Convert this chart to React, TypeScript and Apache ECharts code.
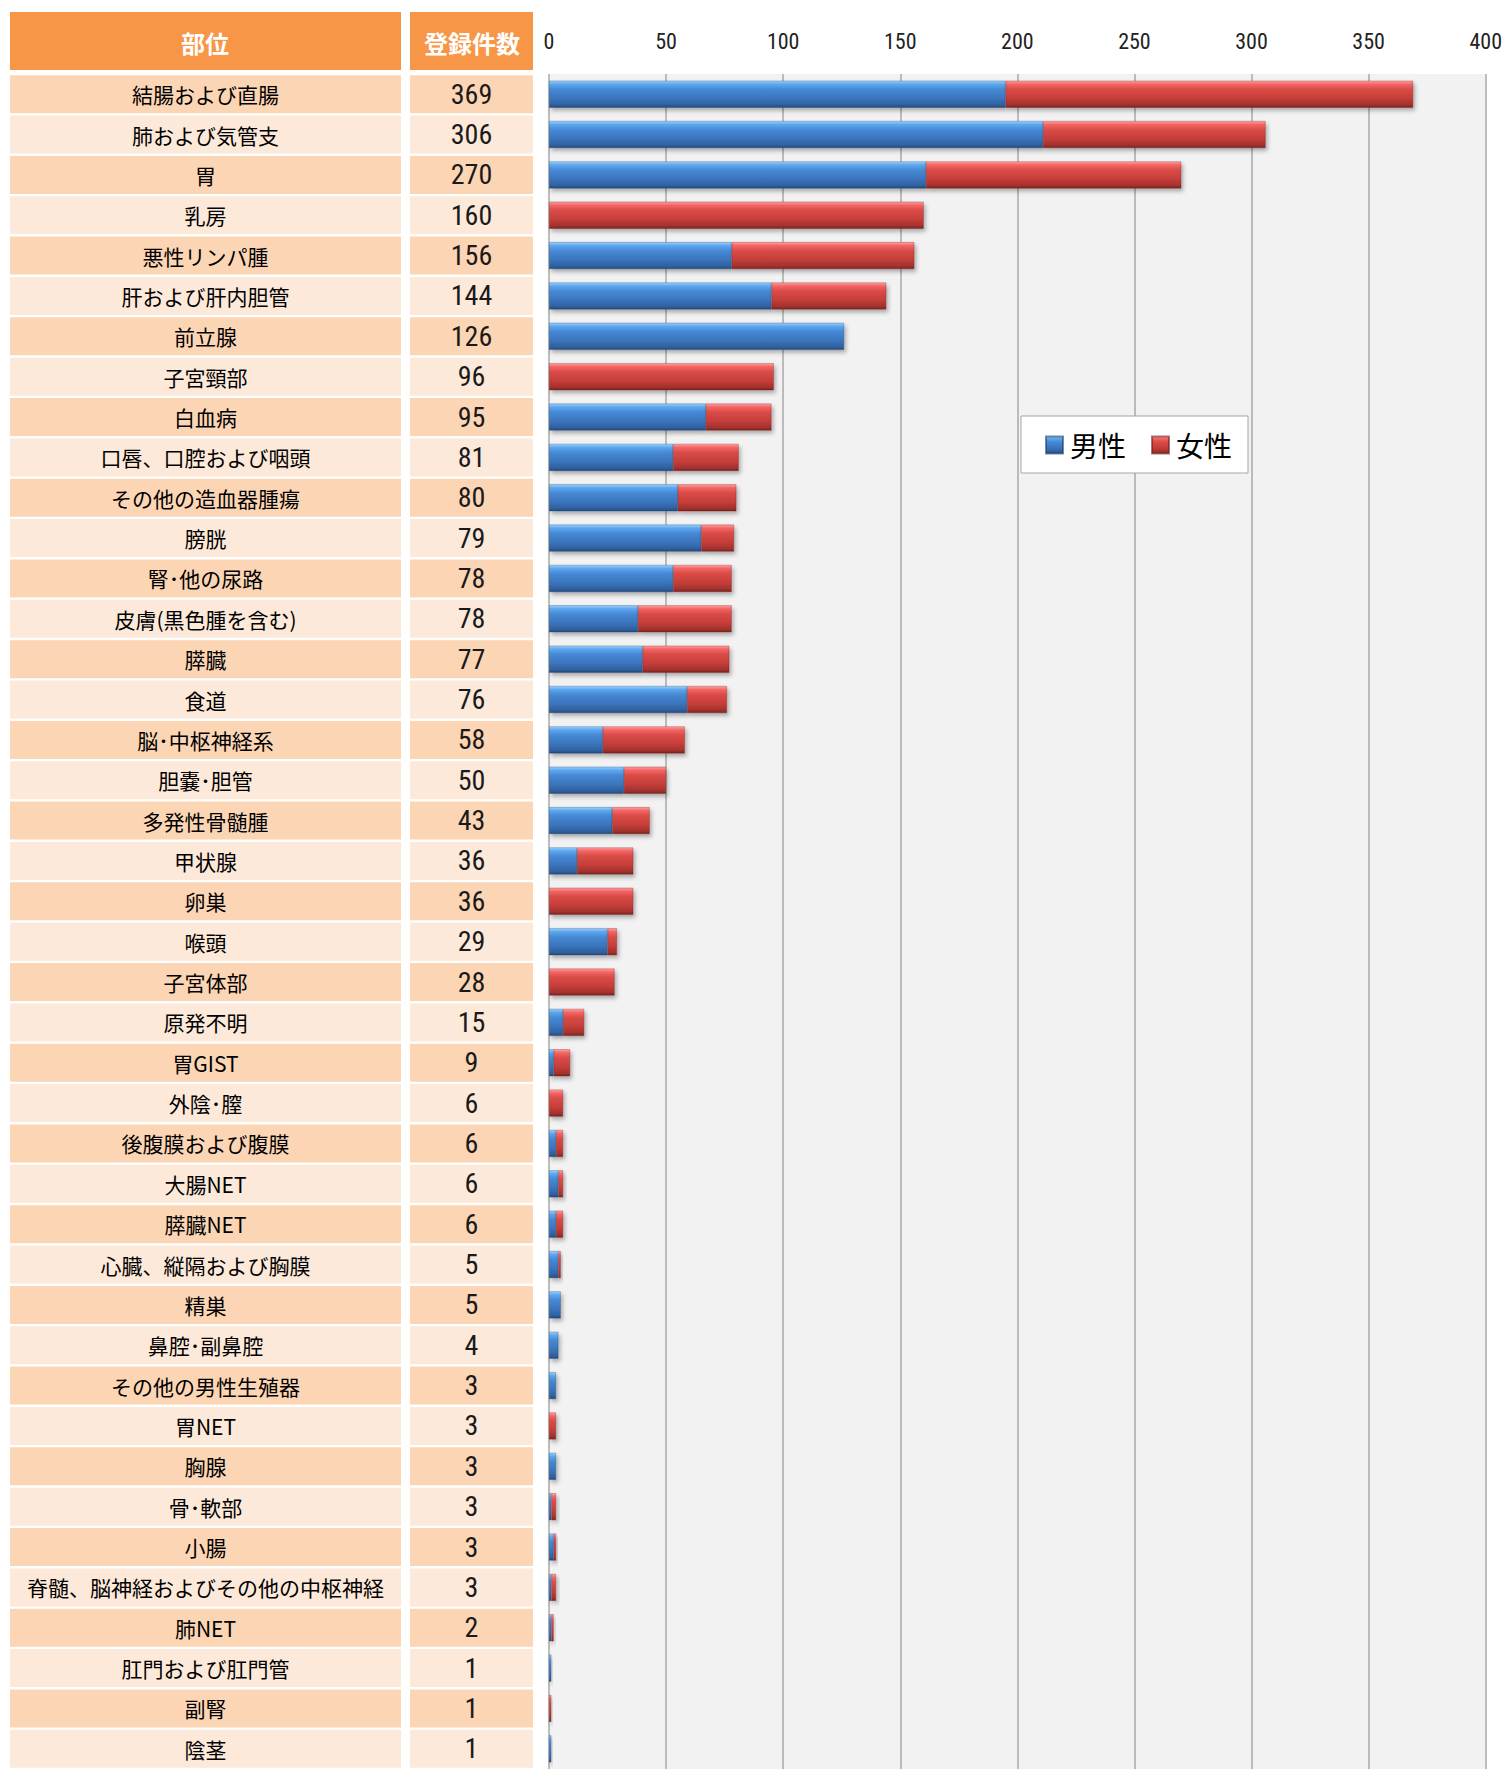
import React, { useEffect, useRef } from "react";
import * as echarts from "echarts";

const sites: string[] = [
  "結腸および直腸", "肺および気管支", "胃", "乳房", "悪性リンパ腫", "肝および肝内胆管", "前立腺",
  "子宮頸部", "白血病", "口唇、口腔および咽頭", "その他の造血器腫瘍", "膀胱", "腎･他の尿路",
  "皮膚(黒色腫を含む)", "膵臓", "食道", "脳･中枢神経系", "胆嚢･胆管", "多発性骨髄腫", "甲状腺",
  "卵巣", "喉頭", "子宮体部", "原発不明", "胃GIST", "外陰･膣", "後腹膜および腹膜", "大腸NET",
  "膵臓NET", "心臓、縦隔および胸膜", "精巣", "鼻腔･副鼻腔", "その他の男性生殖器", "胃NET", "胸腺",
  "骨･軟部", "小腸", "脊髄、脳神経およびその他の中枢神経", "肺NET", "肛門および肛門管", "副腎", "陰茎",
];

const totals: number[] = [
  369, 306, 270, 160, 156, 144, 126, 96, 95, 81, 80, 79, 78, 78, 77, 76, 58, 50, 43, 36, 36,
  29, 28, 15, 9, 6, 6, 6, 6, 5, 5, 4, 3, 3, 3, 3, 3, 3, 2, 1, 1, 1,
];

const male: number[] = [
  195, 211, 161, 0, 78, 95, 126, 0, 67, 53, 55, 65, 53, 38, 40, 59, 23, 32, 27, 12, 0,
  25, 0, 6, 2, 0, 3, 4, 3, 4, 5, 4, 3, 0, 3, 1, 2, 1, 1, 1, 0, 1,
];

const female: number[] = [
  174, 95, 109, 160, 78, 49, 0, 96, 28, 28, 25, 14, 25, 40, 37, 17, 35, 18, 16, 24, 36,
  4, 28, 9, 7, 6, 3, 2, 3, 1, 0, 0, 0, 3, 0, 2, 1, 2, 1, 0, 1, 0,
];

const xTicks = { min: 0, max: 400, interval: 50 };

const CJK = "'Noto Sans CJK JP', 'Noto Sans', sans-serif";
const NARROW = "'Liberation Sans Narrow', 'Roboto Condensed', 'DejaVu Sans Condensed', sans-serif";

const blueGrad = new echarts.graphic.LinearGradient(0, 0, 0, 1, [
  { offset: 0, color: "#9AD2FD" },
  { offset: 0.12, color: "#5EA8F0" },
  { offset: 0.32, color: "#4689D5" },
  { offset: 0.65, color: "#3B75BD" },
  { offset: 0.9, color: "#30609E" },
  { offset: 1, color: "#234A7C" },
]);
const redGrad = new echarts.graphic.LinearGradient(0, 0, 0, 1, [
  { offset: 0, color: "#FFA0A0" },
  { offset: 0.12, color: "#F46666" },
  { offset: 0.32, color: "#D94B47" },
  { offset: 0.65, color: "#C63E3A" },
  { offset: 0.9, color: "#A2312D" },
  { offset: 1, color: "#7A2320" },
]);

export default function App() {
  const ref = useRef<HTMLDivElement>(null);
  useEffect(() => {
    if (!ref.current) return;
    document.body.style.margin = "0";
    const chart = echarts.init(ref.current, undefined, { renderer: "svg" });
    const cellStyle = (bg: string) => ({
      name: {
        width: 391, height: 38, lineHeight: 38, backgroundColor: bg, align: "center",
        fontSize: 21, fontFamily: CJK, color: "#000",
      },
      count: {
        width: 123, height: 38, lineHeight: 38, backgroundColor: bg, align: "center",
        fontSize: 28, fontFamily: NARROW, fontWeight: "normal", color: "#1a1a1a",
      },
    });
    const s0 = cellStyle("#FCD5B4");
    const s1 = cellStyle("#FDE9D9");
    const option: any = {
      animation: false,
      backgroundColor: "#FFFFFF",
      legend: {
        left: 1021,
        top: 416,
        orient: "horizontal",
        backgroundColor: "#FFFFFF",
        borderColor: "#A6A6A6",
        borderWidth: 1,
        padding: [15, 16, 14, 24],
        itemWidth: 17,
        itemHeight: 17,
        itemGap: 25,
        icon: "rect",
        textStyle: { fontSize: 28, fontFamily: CJK, color: "#000", padding: [0, 0, 0, 2] },
        data: ["男性", "女性"],
      },
      grid: { left: 549, top: 74, width: 937, height: 1698, show: true, backgroundColor: "#F2F2F2", borderWidth: 0 },
      xAxis: {
        type: "value",
        position: "top",
        min: xTicks.min,
        max: xTicks.max,
        interval: xTicks.interval,
        axisLine: { show: false },
        axisTick: { show: false },
        axisLabel: { fontSize: 22, fontFamily: NARROW, color: "#222", margin: 22 },
        splitLine: { show: true, lineStyle: { color: "#A8A8A8", width: 1.5 } },
      },
      yAxis: {
        type: "category",
        inverse: true,
        data: sites,
        axisLine: { show: false },
        axisTick: { show: false },
        axisLabel: {
          interval: 0,
          margin: 16,
          formatter: (value: string, index: number) => {
            const k = index % 2 === 0 ? "0" : "1";
            return `{n${k}|${value}}{g|}{c${k}|${totals[index]}}`;
          },
          rich: {
            n0: s0.name, c0: s0.count, n1: s1.name, c1: s1.count,
            g: { width: 9, height: 38, lineHeight: 38, align: "center" },
          },
        },
      },
      graphic: [
        { type: "rect", shape: { x: 10, y: 12, width: 391, height: 58 }, style: { fill: "#F79646" } },
        { type: "rect", shape: { x: 410, y: 12, width: 123, height: 58 }, style: { fill: "#F79646" } },
        {
          type: "text", x: 205, y: 42,
          style: { text: "部位", fill: "#FFFFFF", fontSize: 24, fontWeight: "bold", fontFamily: CJK, align: "center", verticalAlign: "middle" },
        },
        {
          type: "text", x: 472, y: 42,
          style: { text: "登録件数", fill: "#FFFFFF", fontSize: 24, fontWeight: "bold", fontFamily: CJK, align: "center", verticalAlign: "middle" },
        },
      ],
      series: [
        {
          name: "男性",
          type: "bar",
          stack: "total",
          barWidth: 27,
          data: male.map((v) => (v === 0 ? null : v)),
          itemStyle: {
            color: blueGrad,
            borderColor: "rgba(30,60,110,0.6)",
            borderWidth: 0.5,
            shadowColor: "rgba(0,0,0,0.3)",
            shadowBlur: 4,
            shadowOffsetX: 2,
            shadowOffsetY: 3,
          },
        },
        {
          name: "女性",
          type: "bar",
          stack: "total",
          barWidth: 27,
          data: female.map((v) => (v === 0 ? null : v)),
          itemStyle: {
            color: redGrad,
            borderColor: "rgba(110,30,30,0.6)",
            borderWidth: 0.5,
            shadowColor: "rgba(0,0,0,0.3)",
            shadowBlur: 4,
            shadowOffsetX: 2,
            shadowOffsetY: 3,
          },
        },
      ],
    };
    chart.setOption(option);
    return () => chart.dispose();
  }, []);
  return (
    <div
      ref={ref}
      style={{ position: "absolute", left: 0, top: 0, width: 1505, height: 1769, overflow: "hidden" }}
    />
  );
}
